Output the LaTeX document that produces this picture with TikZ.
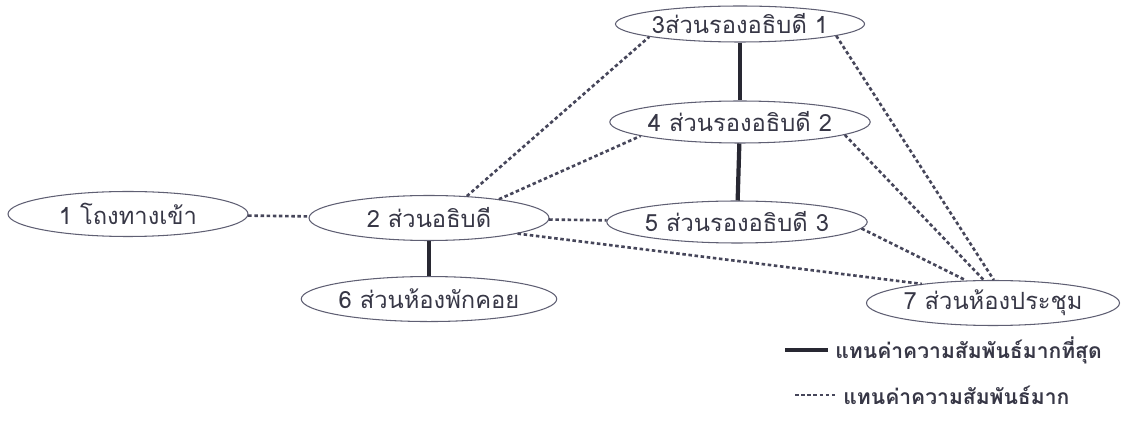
\documentclass[tikz,border=0pt]{standalone}
\usepackage{fontspec}
\newfontfamily\thaifont[Script=Thai]{Loma}
\usetikzlibrary{shapes.geometric, positioning}
\definecolor{roomEdge}{RGB}{95,95,115}
\definecolor{roomText}{RGB}{55,55,70}
\definecolor{linkDark}{RGB}{40,40,50}
\definecolor{linkDot}{RGB}{70,70,90}

\begin{document}
\begin{tikzpicture}[
    x=0.02cm, y=-0.02cm,
    room/.style={ellipse, draw=roomEdge, line width=0.6pt, inner sep=0pt, minimum width=4.8cm, minimum height=0.9cm, text=roomText, font=\thaifont\fontsize{13.5}{16}\selectfont},
    strong/.style={line width=2.4pt, linkDark},
    weak/.style={line width=1.5pt, linkDot, dash pattern=on 2pt off 1.5pt},
    legtext/.style={anchor=west, inner sep=0pt, text=roomText, font=\thaifont\bfseries\fontsize{12}{14}\selectfont}
]
\useasboundingbox (0,0) rectangle (1136,425);

% Rooms
\node[room] (lobby) at (128,214) {1 โถงทางเข้า};
\node[room] (dg) at (429,218) {2 ส่วนอธิบดี};
\node[room, minimum height=0.72cm] (ddg1) at (740,24) {3ส่วนรองอธิบดี 1};
\node[room, minimum height=0.84cm] (ddg2) at (740,122) {4 ส่วนรองอธิบดี 2};
\node[room, minimum height=0.84cm] (ddg3) at (737,222) {5 ส่วนรองอธิบดี 3};
\node[room, below=0.7cm of dg] (lounge) {6 ส่วนห้องพักคอย};
\node[room] (meeting) at (993,303) {7 ส่วนห้องประชุม};

% Strongest relations
\draw[strong] (dg) -- (lounge);
\draw[strong] (ddg1) -- (ddg2);
\draw[strong] (ddg2) -- (ddg3);

% Strong relations
\draw[weak] (lobby) -- (dg);
\draw[weak] (dg.30) -- (ddg1.188);
\draw[weak] (dg.15) -- (ddg2.188);
\draw[weak] (dg) -- (ddg3);
\draw[weak] (dg.-10) -- (meeting.165);
\draw[weak] (ddg1.-7) -- (meeting.88);
\draw[weak] (ddg2.-7) -- (meeting.112);
\draw[weak] (ddg3.-3) -- (meeting.140);

% Legend
\node[legtext] (leg1) at (835,350) {แทนค่าความสัมพันธ์มากที่สุด};
\node[legtext] (leg2) at (843,395) {แทนค่าความสัมพันธ์มาก};
\coordinate (leg1s) at (785,350);
\coordinate (leg2s) at (795,395);
\draw[strong, line width=2pt] (leg1s) -- ([xshift=-4pt]leg1.west);
\draw[weak] (leg2s) -- ([xshift=-4pt]leg2.west);

\end{tikzpicture}
\end{document}
